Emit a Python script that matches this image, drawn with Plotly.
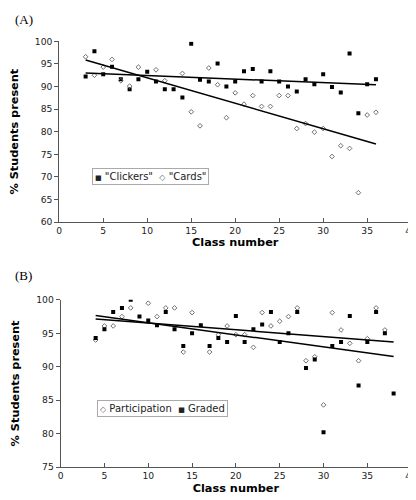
import numpy as np
import plotly.graph_objects as go

# ---- Panel A data ----
clickers_x = list(range(3, 37))
clickers_y = [92.2, 97.8, 92.7, 94.4, 91.6, 89.4, 91.6, 93.3, 91.1, 89.4,
              89.4, 87.6, 99.5, 91.5, 91.1, 95.1, 90.0, 91.1, 93.4, 93.9,
              91.1, 93.4, 91.1, 90.0, 88.9, 91.6, 90.5, 92.7, 89.9, 88.7,
              97.3, 84.1, 90.5, 91.6]
cards_x = [3, 4, 5, 6, 7, 8, 9, 11, 12, 14, 15, 16, 17, 18, 19, 20, 21, 22,
           23, 24, 25, 26, 27, 28, 29, 30, 31, 32, 33, 34, 35, 36]
cards_y = [96.6, 92.5, 94.3, 96.0, 91.3, 90.1, 94.3, 93.7, 91.3, 92.9, 84.4,
           81.3, 94.1, 90.4, 83.1, 88.6, 86.1, 88.0, 85.6, 85.6, 88.0, 88.0,
           80.7, 81.8, 79.9, 80.7, 74.5, 76.9, 76.3, 66.5, 83.7, 84.3]

# ---- Panel B data ----
graded_x = list(range(4, 39))
graded_y = [94.3, 95.6, 98.2, 98.8, 100.0, 97.5, 96.9, 96.2, 98.2, 95.6,
            93.1, 95.0, 96.2, 93.1, 94.3, 93.7, 97.6, 93.7, 95.6, 96.3,
            98.2, 93.7, 95.0, 98.2, 89.8, 91.1, 80.2, 93.1, 93.7, 97.6,
            87.2, 93.7, 98.2, 95.0, 86.0]
part_x = [4, 5, 6, 7, 8, 10, 11, 12, 13, 14, 15, 17, 18, 19, 20, 21, 22, 23,
          24, 25, 26, 27, 28, 29, 30, 31, 32, 33, 34, 35, 36, 37]
part_y = [94.0, 96.1, 96.1, 97.5, 98.8, 99.5, 97.5, 98.8, 98.8, 92.2, 98.1,
          92.2, 94.8, 96.1, 94.8, 94.8, 92.9, 98.1, 96.1, 96.8, 97.5, 98.8,
          90.9, 91.5, 84.3, 98.1, 95.5, 93.5, 90.9, 94.2, 98.8, 95.5]

x_ticks = [0, 5, 10, 15, 20, 25, 30, 35, 40]

legend_a = ['"Clickers"', '"Cards"']
legend_b = ["Participation", "Graded"]


def trend(xs, ys, x0, x1):
    m, b = np.polyfit(xs, ys, 1)
    return [x0, x1], [m * x0 + b, m * x1 + b]


FONT = "DejaVu Sans"
AX = "#555555"
GRAY = "#707070"
W, H = 416, 500

fig = go.Figure()

sq = dict(symbol="square", size=4, color="black")
dia = dict(symbol="diamond-open", size=3.6, color=GRAY, line=dict(width=1, color=GRAY))
tl = dict(color="black", width=1.5)

# Panel A
fig.add_trace(go.Scatter(x=clickers_x, y=clickers_y, mode="markers", marker=sq,
                         name=legend_a[0], showlegend=False, xaxis="x", yaxis="y"))
fig.add_trace(go.Scatter(x=cards_x, y=cards_y, mode="markers", marker=dia,
                         name=legend_a[1], showlegend=False, xaxis="x", yaxis="y"))
tx, ty = trend(clickers_x, clickers_y, 3, 36)
fig.add_trace(go.Scatter(x=tx, y=ty, mode="lines", line=tl, showlegend=False, xaxis="x", yaxis="y"))
tx, ty = trend(cards_x, cards_y, 3, 36)
fig.add_trace(go.Scatter(x=tx, y=ty, mode="lines", line=tl, showlegend=False, xaxis="x", yaxis="y"))

# Panel B
fig.add_trace(go.Scatter(x=part_x, y=part_y, mode="markers", marker=dia,
                         name=legend_b[0], showlegend=False, xaxis="x2", yaxis="y2"))
fig.add_trace(go.Scatter(x=graded_x, y=graded_y, mode="markers", marker=sq,
                         name=legend_b[1], showlegend=False, xaxis="x2", yaxis="y2"))
tx, ty = trend(part_x, part_y, 4, 38)
fig.add_trace(go.Scatter(x=tx, y=ty, mode="lines", line=tl, showlegend=False, xaxis="x2", yaxis="y2"))
tx, ty = trend(graded_x, graded_y, 4, 38)
fig.add_trace(go.Scatter(x=tx, y=ty, mode="lines", line=tl, showlegend=False, xaxis="x2", yaxis="y2"))

TICKF = dict(family=FONT, size=9.2, color="#222")
TITLEF = dict(family=FONT, size=11.3, color="black", weight="bold")

xcommon = dict(range=[0, 40], tickvals=x_ticks, showgrid=False, zeroline=False,
               showline=True, linecolor=AX, linewidth=1, ticks="inside", ticklen=4,
               tickcolor=AX, tickfont=TICKF,
               title=dict(text="Class number", font=TITLEF, standoff=3))
ycommon = dict(dtick=5, showgrid=False, zeroline=False, showline=True, linecolor=AX,
               linewidth=1, ticks="outside", ticklen=4, tickcolor=AX,
               tickfont=TICKF,
               title=dict(text="% Students present", font=TITLEF, standoff=14))

SQ = '<span style="font-size:7px">■</span>'
DI = '<span style="font-size:8px;fill:%s">◇</span>' % GRAY
leg_font = dict(family=FONT, size=10, color="#222")

fig.update_layout(
    width=W, height=H,
    margin=dict(l=0, r=0, t=0, b=0),
    paper_bgcolor="white", plot_bgcolor="white",
    showlegend=False,
    xaxis=dict(xcommon, domain=[49.3 / W, 409 / W], anchor="y"),
    yaxis=dict(ycommon, range=[60, 100], domain=[1 - 212.7 / H, 1 - 28 / H], anchor="x"),
    xaxis2=dict(xcommon, domain=[50.7 / W, 409 / W], anchor="y2"),
    yaxis2=dict(ycommon, range=[75, 100], domain=[1 - 463.3 / H, 1 - 292.3 / H], anchor="x2"),
    annotations=[
        dict(text="(A)", x=2 / W, y=1 - 6 / H, xref="paper", yref="paper", xanchor="left",
             yanchor="middle", showarrow=False, font=dict(family="Liberation Serif", size=13, color="black")),
        dict(text="(B)", x=2 / W, y=1 - 267 / H, xref="paper", yref="paper", xanchor="left",
             yanchor="middle", showarrow=False, font=dict(family="Liberation Serif", size=13, color="black")),
        dict(text=f"{SQ} {legend_a[0]}  {DI} {legend_a[1]}", x=83 / W, y=1 - 166 / H,
             xref="paper", yref="paper", xanchor="left", yanchor="middle", showarrow=False,
             font=leg_font, bordercolor="#aaa", borderwidth=1, borderpad=2, bgcolor="white"),
        dict(text=f"{DI} {legend_b[0]}  {SQ} {legend_b[1]}", x=88 / W, y=1 - 403 / H,
             xref="paper", yref="paper", xanchor="left", yanchor="middle", showarrow=False,
             font=leg_font, bordercolor="#aaa", borderwidth=1, borderpad=2, bgcolor="white"),
    ],
)

fig.write_html("out.html")
